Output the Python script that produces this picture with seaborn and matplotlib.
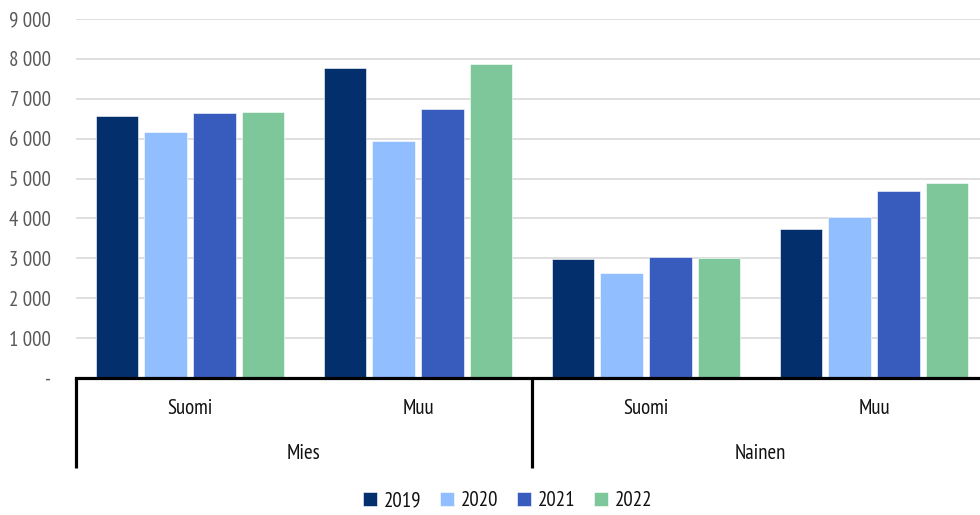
import pandas as pd
import matplotlib
matplotlib.use("Agg")
import matplotlib.pyplot as plt
import matplotlib.ticker as ticker
import matplotlib.transforms as mtransforms
import seaborn as sns

# Data
groups = ["Mies", "Mies", "Nainen", "Nainen"]
origins = ["Suomi", "Muu", "Suomi", "Muu"]
years = ["2019", "2020", "2021", "2022"]
values_2019 = [6575, 7775, 2975, 3730]
values_2020 = [6160, 5940, 2640, 4025]
values_2021 = [6640, 6740, 3025, 4700]
values_2022 = [6660, 7875, 3000, 4880]
colors = ["#03306C", "#90BEFF", "#385BBE", "#7DC79A"]

series = [values_2019, values_2020, values_2021, values_2022]
cats = [f"{g}|{o}" for g, o in zip(groups, origins)]
rows = []
for year, vals in zip(years, series):
    for cat, v in zip(cats, vals):
        rows.append({"cat": cat, "year": year, "value": v})
df = pd.DataFrame(rows)

sns.set_theme(style="white")
plt.rcParams["font.family"] = ["PT Sans Narrow", "DejaVu Sans"]

fig = plt.figure(figsize=(9.8, 5.15), dpi=100)
ax = fig.add_axes([76 / 980, 1 - 378.3 / 515, 904 / 980, 359.6 / 515])

sns.barplot(data=df, x="cat", y="value", hue="year", order=cats,
            hue_order=years, palette=colors, saturation=1, width=0.855, gap=0.13,
            edgecolor="white", linewidth=0.4, ax=ax, legend=True)

ax.set_ylim(0, 9000)
ax.set_xlim(-0.5, 3.465)
ax.yaxis.set_major_locator(ticker.MultipleLocator(1000))
ax.yaxis.set_major_formatter(ticker.FuncFormatter(
    lambda v, pos: "-" if v == 0 else f"{v:,.0f}".replace(",", " ")))
ax.grid(axis="y", color="#D9D9D9", linewidth=1.2)
ax.set_axisbelow(True)
ax.tick_params(axis="y", length=0, pad=18, labelsize=15, labelcolor="#595959")
ax.set_xticks([])
ax.set_xlabel("")
ax.set_ylabel("")
for side in ["top", "right", "left"]:
    ax.spines[side].set_visible(False)
ax.spines["bottom"].set_color("black")
ax.spines["bottom"].set_linewidth(2.3)

# Two-level category axis
trans = mtransforms.blended_transform_factory(ax.transData, ax.transAxes)
for i, o in enumerate(origins):
    ax.text(i, -0.083, o, transform=trans, ha="center", va="center",
            fontsize=15, color="#111111")
for x0, g in [(0.5, "Mies"), (2.5, "Nainen")]:
    ax.text(x0, -0.208, g, transform=trans, ha="center", va="center",
            fontsize=15, color="#111111")
for xb in [-0.5, 1.5]:
    ax.plot([xb, xb], [0, -0.25], transform=trans, color="black",
            linewidth=2.3, clip_on=False, solid_capstyle="butt")

handles, labels = ax.get_legend_handles_labels()
ax.get_legend().remove()
fig.legend(handles, labels, loc="center", bbox_to_anchor=(508 / 980, 1 - 501 / 515),
           ncol=4, frameon=False, fontsize=15, labelcolor="#111111",
           handlelength=0.65, handleheight=0.65, handletextpad=0.35,
           columnspacing=0.9)

fig.savefig("out.png", dpi=100)
